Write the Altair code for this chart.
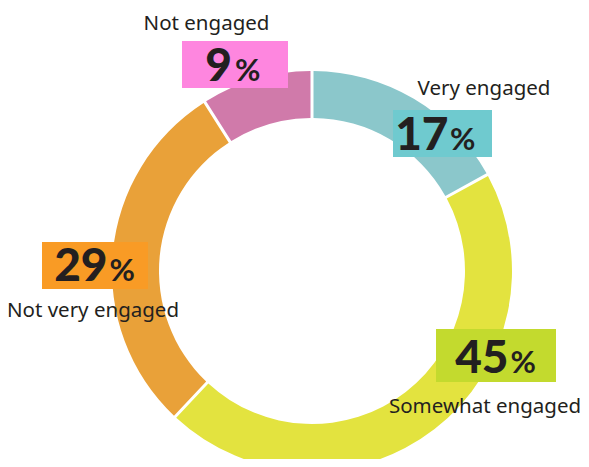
import altair as alt
import pandas as pd

# ---- data ----
categories = ["Very engaged", "Somewhat engaged", "Not very engaged", "Not engaged"]
values = [17, 45, 29, 9]
pct_text = ["17", "45", "29", "9"]

# ---- styles ----
slice_colors = ["#8bc7cb", "#e3e33f", "#e9a139", "#d07aaa"]
box_colors = ["#6fcacf", "#c3da2e", "#f99b25", "#fe86df"]
text_color = "#231f20"

# ---- label layout (pixel positions within the plot area) ----
box_x0 = [385, 428, 34, 174]
box_x1 = [484, 548, 140, 280]
box_y0 = [102, 321, 234, 33]
box_y1 = [149, 374, 281, 80]
num_right = [440.5, 500.5, 99.5, 224]
pct_left = [442, 502.5, 101.5, 227]
num_base = [142, 364.7, 272.7, 73]
lab_cx = [476, 477, 85, 198.5]
lab_base = [87, 405.3, 309.3, 22]

df = pd.DataFrame({"category": categories, "value": values,
                   "idx": list(range(len(categories)))})

lab = pd.DataFrame({
    "category": categories, "boxcat": [c + " box" for c in categories],
    "num": pct_text,
    "bx0": box_x0, "bx1": box_x1, "by0": box_y0, "by1": box_y1,
    "nr": num_right, "pl": pct_left, "nb": num_base,
    "lx": lab_cx, "lb": lab_base,
})

W, H = 573, 451
CX, CY = 304, 263

color_scale = alt.Scale(domain=categories, range=slice_colors)
box_scale = alt.Scale(domain=[c + " box" for c in categories], range=box_colors)

arcs = alt.Chart(df).mark_arc(
    outerRadius=200, innerRadius=153, padAngle=0.012
).encode(
    theta=alt.Theta("value:Q", stack=True),
    order=alt.Order("idx:Q"),
    color=alt.Color("category:N", scale=color_scale, legend=None),
    x=alt.value(CX), y=alt.value(CY),
)

boxes = alt.Chart(lab).mark_rect().encode(
    x=alt.X("bx0:Q", scale=None, axis=None),
    x2="bx1:Q",
    y=alt.Y("by0:Q", scale=None, axis=None),
    y2="by1:Q",
    fill=alt.Fill("boxcat:N", scale=box_scale, legend=None),
)

nums = alt.Chart(lab).mark_text(
    font="Lato", fontWeight=900, fontSize=46, align="right",
    baseline="alphabetic", color=text_color
).encode(
    x=alt.X("nr:Q", scale=None, axis=None),
    y=alt.Y("nb:Q", scale=None, axis=None),
    text="num:N",
)

pcts = alt.Chart(lab).mark_text(
    font="Lato", fontWeight=700, fontSize=31, align="left",
    baseline="alphabetic", color=text_color, text="%"
).encode(
    x=alt.X("pl:Q", scale=None, axis=None),
    y=alt.Y("nb:Q", scale=None, axis=None),
)

labels = alt.Chart(lab).mark_text(
    font="Noto Sans", fontSize=20.5, align="center",
    baseline="alphabetic", color=text_color
).encode(
    x=alt.X("lx:Q", scale=None, axis=None),
    y=alt.Y("lb:Q", scale=None, axis=None),
    text="category:N",
)

chart = alt.layer(arcs, boxes, nums, pcts, labels).properties(
    width=W, height=H,
    autosize=alt.AutoSizeParams(type="none"),
    padding=0,
    background="white",
).resolve_scale(color="independent", fill="independent").configure_view(
    strokeWidth=0, stroke="transparent"
)

chart.save("out.html", embed_options={"renderer": "svg", "actions": False})
